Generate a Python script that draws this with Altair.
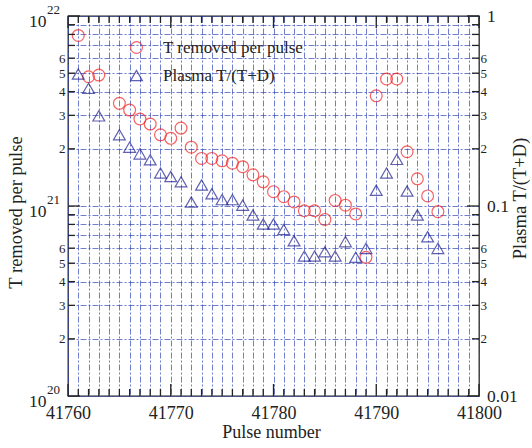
import altair as alt
import pandas as pd
import math

# ---------------- data ----------------
pulses = [41761, 41762, 41763, 41765, 41766, 41767, 41768, 41769, 41770,
          41771, 41772, 41773, 41774, 41775, 41776, 41777, 41778, 41779,
          41780, 41781, 41782, 41783, 41784, 41785, 41786, 41787, 41788,
          41789, 41790, 41791, 41792, 41793, 41794, 41795, 41796]
# T removed per pulse, in units of 1e21
t_removed_e21 = [7.9, 4.79, 4.89, 3.47, 3.20, 2.87, 2.70, 2.37, 2.27,
                 2.57, 2.04, 1.78, 1.78, 1.73, 1.68, 1.61, 1.46, 1.34,
                 1.19, 1.12, 1.05, 0.944, 0.944, 0.85, 1.07, 1.01, 0.908,
                 0.537, 3.80, 4.66, 4.66, 1.93, 1.39, 1.13, 0.934]
# Plasma T/(T+D)
plasma_ratio = [0.495, 0.416, 0.298, 0.237, 0.204, 0.188, 0.175, 0.149, 0.143,
                0.134, 0.105, 0.129, 0.116, 0.108, 0.108, 0.101, 0.0897, 0.0804,
                0.0804, 0.0752, 0.0656, 0.0545, 0.0545, 0.0574, 0.0545, 0.0649, 0.0537,
                0.0598, 0.121, 0.149, 0.176, 0.120, 0.0897, 0.0689, 0.0598]

series_names = ["T removed per pulse", "Plasma T/(T+D)"]
x_domain = [41760, 41800]
left_domain = [1e20, 1e22]
right_domain = [0.01, 1.0]
exp_values = [1e22, 1e21, 1e20]
exp_labels = ["22", "21", "20"]

# ---------------- style ----------------
FONT = "Liberation Serif"
TXT = "#222222"
GRID = "#3347b8"
RED = "#f52020"
NAVY = "#1f1f8f"
W, H = 411, 380

left_ticks = [k * 10.0 ** e for e in (20, 21) for k in range(1, 10)] + [1e22]
right_ticks = [k * 10.0 ** e for e in (-2, -1) for k in range(1, 10)] + [1.0]
x_ticks = list(range(x_domain[0], x_domain[1] + 1))

M = "round(datum.value/pow(10,floor(log(datum.value)/LN10+1e-9)))"
MAJ = f"{M} == 1"

df_c = pd.DataFrame({"pulse": pulses,
                     "v": [t * 1e21 for t in t_removed_e21],
                     "series": series_names[0]})
df_t = pd.DataFrame({"pulse": pulses, "r": plasma_ratio, "series": series_names[1]})

xscale = alt.Scale(domain=x_domain, nice=False, zero=False)
yl = alt.Scale(type="log", domain=left_domain, nice=False)
yr = alt.Scale(type="log", domain=right_domain, nice=False)
color_scale = alt.Scale(domain=series_names, range=[RED, NAVY])
shape_scale = alt.Scale(domain=series_names, range=["circle", "triangle-up"])

legend = alt.Legend(orient="none", legendX=60, legendY=23, title=None,
                    labelFont=FONT, labelFontSize=17, labelColor=TXT,
                    symbolSize=140, symbolStrokeWidth=1.2, labelOffset=18,
                    rowPadding=10, padding=0, symbolFillColor="transparent")

bottom_axis = alt.Axis(values=x_ticks, orient="bottom", ticks=False, domain=False,
                       grid=True, gridColor=GRID, gridDash=[6, 2, 2, 2],
                       gridOpacity=0.7, gridWidth=1,
                       labelExpr="datum.value % 10 == 0 ? '' + datum.value : ''",
                       labelFont=FONT, labelFontSize=18, labelColor=TXT,
                       labelPadding=8, labelFlush=False, labelOverlap=False,
                       title="Pulse number", titleFont=FONT, titleFontSize=18,
                       titleFontWeight="normal", titleColor=TXT,
                       titleX=203, titleY=41, titleAlign="center",
                       titleBaseline="alphabetic")

left_axis = alt.Axis(values=left_ticks, orient="left", ticks=False, domain=False,
                     grid=True, gridColor=GRID, gridDash=[6, 2, 2, 2],
                     gridOpacity=0.7, gridWidth=1,
                     labelExpr=f"{MAJ} ? '10' : ({M} <= 6 ? '' + {M} : '')",
                     labelFont=FONT, labelColor=TXT,
                     labelFontSize={"condition": {"test": MAJ, "value": 17.5}, "value": 13},
                     labelPadding={"condition": {"test": MAJ, "value": 22}, "value": 3},
                     labelOffset={"condition": {"test": MAJ, "value": 5}, "value": 0},
                     labelBaseline="middle", labelFlush=False, labelOverlap=False,
                     labelBound=False,
                     title="T removed per pulse", titleFont=FONT, titleFontSize=18.5,
                     titleFontWeight="normal", titleColor=TXT, titleAngle=270,
                     titleX=-53, titleY=196, titleAlign="center", titleBaseline="middle")

right_axis = alt.Axis(values=right_ticks, orient="right", ticks=False, domain=False,
                      grid=False,
                      labelExpr=f"{MAJ} ? format(datum.value, '~g') : ({M} <= 6 ? '' + {M} : '')",
                      labelFont=FONT, labelColor=TXT,
                      labelFontSize={"condition": {"test": MAJ, "value": 17.5}, "value": 13},
                      labelPadding={"condition": {"test": MAJ, "value": 7.5}, "value": 1},
                      labelBaseline="middle", labelFlush=False, labelOverlap=False,
                      labelBound=False,
                      title="Plasma T/(T+D)", titleFont=FONT, titleFontSize=18.5,
                      titleFontWeight="normal", titleColor=TXT, titleAngle=270,
                      titleX=40, titleY=182, titleAlign="center", titleBaseline="middle")


def is_major_log(v):
    m = v / 10 ** math.floor(math.log10(v) + 1e-9)
    return round(m) == 1


ydf_major = pd.DataFrame({"v": [v for v in left_ticks if is_major_log(v)]})
ydf_minor = pd.DataFrame({"v": [v for v in left_ticks if not is_major_log(v)]})
xdf_major = pd.DataFrame({"pulse": [p for p in x_ticks if p % 10 == 0]})
xdf_minor = pd.DataFrame({"pulse": [p for p in x_ticks if p % 10 != 0]})

tick_style = dict(color=TXT, strokeWidth=1.3)


def ytick(df, x0, x1):
    return alt.Chart(df).mark_rule(**tick_style).encode(
        y=alt.Y("v:Q", scale=yl, axis=left_axis), x=alt.value(x0), x2=alt.value(x1))


def xtick(df, y0, y1):
    return alt.Chart(df).mark_rule(**tick_style).encode(
        x=alt.X("pulse:Q", scale=xscale, axis=bottom_axis), y=alt.value(y0), y2=alt.value(y1))


tick_layers = [
    ytick(ydf_minor, 0, 7), ytick(ydf_major, 0, 12),
    ytick(ydf_minor, W - 7, W), ytick(ydf_major, W - 12, W),
    xtick(xdf_minor, H - 7, H), xtick(xdf_major, H - 12, H),
    xtick(xdf_minor, 0, 7), xtick(xdf_major, 0, 12),
]

exp_df = pd.DataFrame({"v": exp_values, "e": exp_labels})
exps = alt.Chart(exp_df).mark_text(font=FONT, fontSize=13, color=TXT, align="center",
                                   baseline="middle", dx=-14.5, dy=-6).encode(
    y=alt.Y("v:Q", scale=yl, axis=left_axis), x=alt.value(0), text="e:N")

circles = alt.Chart(df_c).mark_point(filled=False, size=140, strokeWidth=1.2).encode(
    x=alt.X("pulse:Q", scale=xscale, axis=bottom_axis),
    y=alt.Y("v:Q", scale=yl, axis=left_axis),
    color=alt.Color("series:N", scale=color_scale, legend=legend),
    shape=alt.Shape("series:N", scale=shape_scale, legend=legend),
)

triangles = alt.Chart(df_t).mark_point(filled=False, size=140, strokeWidth=1.2).encode(
    x=alt.X("pulse:Q", scale=xscale, axis=bottom_axis),
    y=alt.Y("r:Q", scale=yr, axis=right_axis),
    color=alt.Color("series:N", scale=color_scale, legend=legend),
    shape=alt.Shape("series:N", scale=shape_scale, legend=legend),
)

left_group = alt.layer(circles, exps, *tick_layers)
right_group = alt.layer(triangles)

chart = alt.layer(left_group, right_group).resolve_scale(y="independent").properties(
    width=W, height=H,
    autosize=alt.AutoSizeParams(type="none"),
    padding={"left": 68, "top": 16, "right": 53, "bottom": 52},
    background="white",
).configure_view(stroke=TXT, strokeWidth=1.3)

chart.save("out.html", embed_options={"renderer": "svg", "actions": False})
